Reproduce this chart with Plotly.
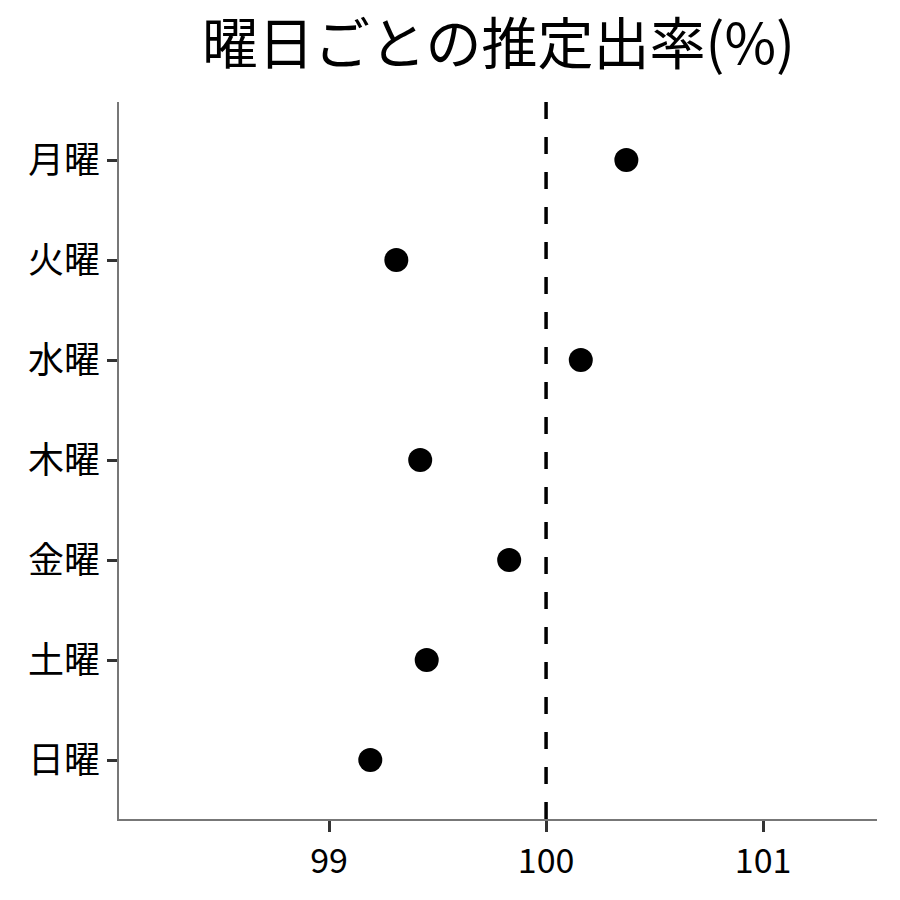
import plotly.graph_objects as go

days = ["月曜", "火曜", "水曜", "木曜", "金曜", "土曜", "日曜"]
rates = [100.37, 99.31, 100.16, 99.42, 99.83, 99.45, 99.19]
x_ticks = [99, 100, 101]
x_tick_labels = ["99", "100", "101"]
title_text = "曜日ごとの推定出率(%)"
ref_value = 100

font = "Noto Sans CJK JP"

fig = go.Figure()
fig.add_trace(go.Scatter(
    x=rates, y=days, mode="markers",
    marker=dict(color="black", size=24),
    showlegend=False, cliponaxis=False,
))
fig.add_shape(type="line", x0=ref_value, x1=ref_value, xref="x", y0=0, y1=1, yref="paper",
              line=dict(color="black", width=3.5, dash="17px,18px"))

fig.update_layout(
    width=900, height=900,
    paper_bgcolor="white", plot_bgcolor="white",
    margin=dict(l=111, r=31, t=94, b=89),
    title=dict(text=title_text, x=0.545, xanchor="center", y=0.96, yanchor="middle",
               font=dict(family=font, size=56, color="black")),
    font=dict(family=font, color="black"),
)
fig.update_xaxes(
    range=[98.032, 101.525], tickvals=x_ticks, ticktext=x_tick_labels,
    showgrid=False, zeroline=False, showline=True, linecolor="#777777", linewidth=1.5,
    ticks="outside", ticklen=11, tickwidth=3, tickcolor="#333333",
    tickfont=dict(family=font, size=34, color="black"),
)
fig.update_yaxes(
    categoryorder="array", categoryarray=days, autorange=False, range=[6.59, -0.58],
    showgrid=False, zeroline=False, showline=True, linecolor="#777777", linewidth=1.5,
    ticks="outside", ticklen=10, tickwidth=3, tickcolor="#333333",
    tickfont=dict(family=font, size=36, color="black"),
)

fig.write_html("out.html")
